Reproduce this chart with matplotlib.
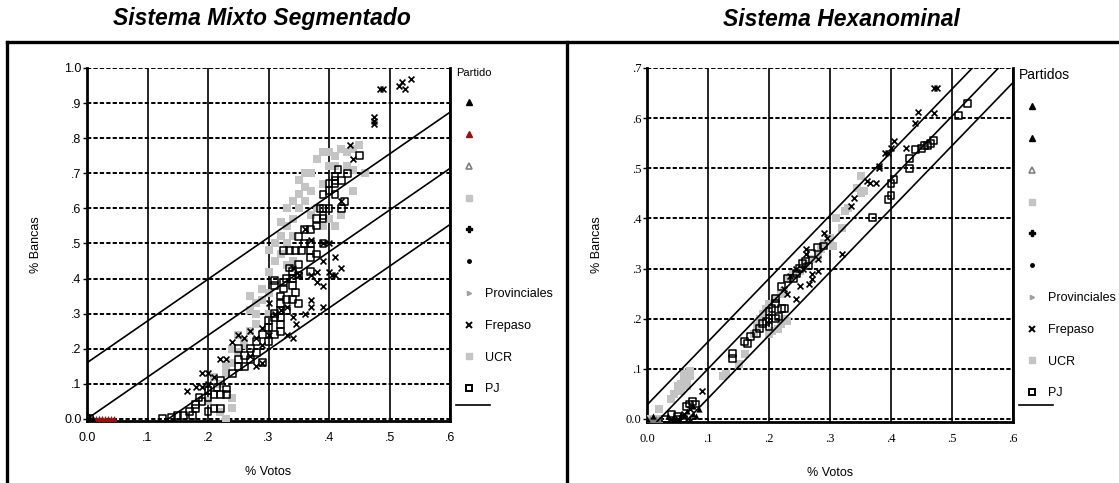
import numpy as np
import matplotlib
matplotlib.use('Agg')
import matplotlib.pyplot as plt
from matplotlib.lines import Line2D

plt.rcParams['font.family'] = ['Liberation Sans', 'DejaVu Sans']

# ---- Sistema Mixto Segmentado (left) ----
pj_l = [(0.0, 0.0), (0.005, 0.0), (0.125, 0.0), (0.14, 0.005), (0.15, 0.01), (0.16, 0.01), (0.17, 0.02),
        (0.175, 0.01), (0.18, 0.03), (0.18, 0.04), (0.185, 0.06), (0.19, 0.05), (0.2, 0.06), (0.2, 0.02),
        (0.21, 0.03), (0.22, 0.03), (0.2, 0.08), (0.21, 0.07), (0.22, 0.07), (0.215, 0.09), (0.23, 0.07),
        (0.23, 0.085), (0.22, 0.11), (0.24, 0.13), (0.25, 0.15), (0.25, 0.17), (0.25, 0.2), (0.26, 0.18),
        (0.26, 0.15), (0.27, 0.2), (0.27, 0.17), (0.28, 0.22), (0.28, 0.19), (0.29, 0.16), (0.29, 0.24),
        (0.3, 0.22), (0.3, 0.26), (0.3, 0.28), (0.31, 0.29), (0.31, 0.3), (0.32, 0.27), (0.32, 0.31),
        (0.32, 0.33), (0.32, 0.35), (0.325, 0.37), (0.33, 0.34), (0.33, 0.31), (0.31, 0.38), (0.33, 0.4),
        (0.325, 0.48), (0.335, 0.48), (0.345, 0.48), (0.355, 0.48), (0.335, 0.43), (0.34, 0.42), (0.34, 0.4),
        (0.35, 0.44), (0.35, 0.41), (0.35, 0.33), (0.345, 0.36), (0.35, 0.52), (0.36, 0.54), (0.37, 0.54),
        (0.36, 0.5), (0.37, 0.5), (0.37, 0.48), (0.37, 0.46), (0.38, 0.47), (0.38, 0.57), (0.38, 0.55),
        (0.39, 0.58), (0.39, 0.6), (0.385, 0.6), (0.39, 0.64), (0.39, 0.57), (0.4, 0.6), (0.4, 0.67),
        (0.41, 0.68), (0.41, 0.67), (0.41, 0.64), (0.41, 0.69), (0.415, 0.71), (0.42, 0.68), (0.42, 0.6),
        (0.425, 0.62), (0.43, 0.7), (0.45, 0.75), (0.4, 0.65), (0.39, 0.5), (0.37, 0.42), (0.34, 0.38),
        (0.32, 0.25), (0.31, 0.24), (0.34, 0.34), (0.32, 0.29), (0.325, 0.39), (0.31, 0.395)]
frepaso_l = [(0.165, 0.08), (0.18, 0.09), (0.19, 0.09), (0.19, 0.13), (0.2, 0.13), (0.21, 0.12), (0.22, 0.17),
             (0.23, 0.17), (0.2, 0.1), (0.24, 0.22), (0.25, 0.24), (0.26, 0.23), (0.27, 0.25), (0.28, 0.23),
             (0.28, 0.15), (0.29, 0.16), (0.29, 0.21), (0.3, 0.24), (0.3, 0.33), (0.31, 0.3), (0.32, 0.31),
             (0.33, 0.24), (0.34, 0.23), (0.345, 0.27), (0.34, 0.29), (0.36, 0.3), (0.37, 0.32), (0.37, 0.34),
             (0.37, 0.41), (0.38, 0.39), (0.38, 0.42), (0.39, 0.45), (0.39, 0.38), (0.39, 0.32), (0.4, 0.42),
             (0.405, 0.41), (0.41, 0.46), (0.41, 0.41), (0.42, 0.43), (0.4, 0.5), (0.37, 0.51), (0.36, 0.54),
             (0.39, 0.5), (0.42, 0.62), (0.44, 0.74), (0.435, 0.78), (0.475, 0.85), (0.475, 0.84), (0.475, 0.86),
             (0.485, 0.94), (0.49, 0.94), (0.515, 0.95), (0.52, 0.96), (0.525, 0.94), (0.535, 0.97),
             (0.34, 0.43), (0.35, 0.41), (0.33, 0.32), (0.29, 0.26), (0.27, 0.18)]
ucr_l = [(0.23, 0.0), (0.24, 0.03), (0.24, 0.06), (0.22, 0.1), (0.23, 0.13), (0.24, 0.16), (0.24, 0.2),
         (0.25, 0.19), (0.26, 0.21), (0.27, 0.25), (0.27, 0.35), (0.28, 0.33), (0.28, 0.3), (0.27, 0.31),
         (0.29, 0.34), (0.3, 0.36), (0.3, 0.3), (0.3, 0.42), (0.31, 0.45), (0.3, 0.48), (0.31, 0.5),
         (0.32, 0.47), (0.32, 0.52), (0.33, 0.55), (0.33, 0.5), (0.34, 0.57), (0.33, 0.6), (0.34, 0.62),
         (0.35, 0.6), (0.35, 0.64), (0.36, 0.62), (0.36, 0.66), (0.37, 0.65), (0.36, 0.7), (0.37, 0.7),
         (0.38, 0.74), (0.39, 0.76), (0.4, 0.76), (0.41, 0.75), (0.42, 0.77), (0.43, 0.76), (0.44, 0.77),
         (0.45, 0.78), (0.4, 0.72), (0.41, 0.72), (0.38, 0.6), (0.39, 0.55), (0.4, 0.57), (0.41, 0.55),
         (0.42, 0.58), (0.44, 0.65), (0.44, 0.71), (0.33, 0.44), (0.34, 0.45), (0.29, 0.37), (0.26, 0.22),
         (0.23, 0.15), (0.21, 0.12), (0.2, 0.05), (0.25, 0.24), (0.28, 0.27), (0.22, 0.02), (0.32, 0.56),
         (0.35, 0.68), (0.37, 0.58), (0.43, 0.72), (0.46, 0.7), (0.39, 0.67), (0.34, 0.52)]
otro_negro_l = [(0.0, 0.0), (0.005, 0.002), (0.01, 0.0)]
otro_rojo_l = [(0.01, 0.0), (0.015, 0.0), (0.02, 0.0), (0.025, 0.0), (0.03, 0.0), (0.035, 0.0), (0.04, 0.0), (0.045, 0.0)]
otro_gris_l = [(0.0, 0.0), (0.01, 0.0), (0.02, 0.0), (0.025, 0.0)]

# ---- Sistema Hexanominal (right) ----
pj_r = [(0.525, 0.63), (0.51, 0.605), (0.47, 0.555), (0.465, 0.55), (0.46, 0.545), (0.455, 0.545),
        (0.45, 0.54), (0.44, 0.538), (0.43, 0.52), (0.43, 0.5), (0.405, 0.477), (0.4, 0.47), (0.4, 0.445),
        (0.395, 0.437), (0.37, 0.402), (0.29, 0.345), (0.28, 0.342), (0.27, 0.33), (0.26, 0.315),
        (0.255, 0.31), (0.25, 0.3), (0.245, 0.29), (0.24, 0.28), (0.23, 0.28), (0.22, 0.265), (0.21, 0.24),
        (0.21, 0.23), (0.205, 0.22), (0.2, 0.215), (0.21, 0.2), (0.2, 0.2), (0.19, 0.19), (0.2, 0.185),
        (0.22, 0.22), (0.225, 0.22), (0.185, 0.18), (0.18, 0.17), (0.17, 0.165), (0.16, 0.155),
        (0.165, 0.15), (0.14, 0.13), (0.14, 0.12), (0.215, 0.205), (0.195, 0.195), (0.265, 0.305),
        (0.04, 0.01), (0.05, 0.005), (0.06, 0.0), (0.07, 0.03), (0.075, 0.035), (0.08, 0.03),
        (0.065, 0.025), (0.05, 0.0), (0.03, 0.0)]
frepaso_r = [(0.47, 0.66), (0.475, 0.66), (0.445, 0.613), (0.47, 0.61), (0.44, 0.59), (0.405, 0.555),
             (0.4, 0.54), (0.395, 0.53), (0.425, 0.54), (0.39, 0.53), (0.38, 0.505), (0.38, 0.5),
             (0.365, 0.47), (0.375, 0.47), (0.36, 0.475), (0.34, 0.44), (0.335, 0.425), (0.29, 0.37),
             (0.295, 0.36), (0.32, 0.33), (0.28, 0.32), (0.28, 0.295), (0.27, 0.29), (0.27, 0.28),
             (0.265, 0.27), (0.26, 0.34), (0.25, 0.265), (0.245, 0.24), (0.23, 0.25), (0.235, 0.285),
             (0.225, 0.26), (0.09, 0.055), (0.07, 0.02), (0.05, 0.0), (0.06, 0.01), (0.04, 0.0),
             (0.255, 0.3), (0.26, 0.33), (0.245, 0.3)]
ucr_r = [(0.35, 0.485), (0.345, 0.46), (0.355, 0.455), (0.35, 0.45), (0.33, 0.42), (0.325, 0.415),
         (0.31, 0.4), (0.32, 0.38), (0.305, 0.345), (0.3, 0.36), (0.29, 0.35), (0.285, 0.34), (0.28, 0.325),
         (0.27, 0.32), (0.26, 0.31), (0.25, 0.295), (0.24, 0.29), (0.23, 0.28), (0.225, 0.255), (0.22, 0.25),
         (0.21, 0.24), (0.2, 0.23), (0.195, 0.22), (0.19, 0.21), (0.185, 0.2), (0.18, 0.185), (0.175, 0.17),
         (0.215, 0.18), (0.22, 0.19), (0.225, 0.2), (0.23, 0.195), (0.205, 0.175), (0.2, 0.17), (0.16, 0.13),
         (0.15, 0.11), (0.13, 0.09), (0.125, 0.085), (0.06, 0.09), (0.07, 0.095), (0.065, 0.08),
         (0.055, 0.07), (0.05, 0.06), (0.045, 0.05), (0.06, 0.075), (0.07, 0.085), (0.04, 0.04),
         (0.05, 0.065), (0.02, 0.02), (0.02, 0.0), (0.005, 0.0), (0.01, 0.0), (0.055, 0.055), (0.065, 0.065)]
otro_negro_r = [(0.0, 0.0), (0.01, 0.005), (0.035, 0.005), (0.045, 0.0), (0.055, 0.01), (0.06, 0.005),
                (0.07, 0.0), (0.075, 0.01), (0.08, 0.005), (0.085, 0.02), (0.065, 0.015), (0.075, 0.025)]
otro_rojo_r = []
otro_gris_r = [(0.0, 0.0), (0.005, 0.0), (0.01, 0.0), (0.015, 0.0), (0.02, 0.0)]

# fitted bands: slope and intercepts (upper, middle, lower)
band_l = (1.19, [0.16, 0.0, -0.16])
band_r = (1.26, [0.028, -0.026, -0.085])

legend_labels = ['', '', '', '', '', '', 'Provinciales', 'Frepaso', 'UCR', 'PJ']

W, H = 1119, 483


def xy(pts):
    a = np.array(pts, dtype=float).reshape(-1, 2)
    return a[:, 0], a[:, 1]


def panel(ax, pj, fre, ucr, negro, rojo, gris, band, ymax, yticks, ylabels, tickfont, red2, leg_title, leg_size, leg_x):
    ax.set_xlim(0, 0.6)
    ax.set_ylim(-0.006, ymax)
    x, y = xy(ucr)
    ax.scatter(x, y, marker='s', s=38, color='#c4c4c4', lw=0, zorder=3)
    x, y = xy(gris)
    ax.scatter(x, y, marker='^', s=25, color='#7a7a7a', lw=0, zorder=3)
    x, y = xy(rojo)
    ax.scatter(x, y, marker='^', s=25, color='#9a1010', lw=0, zorder=4)
    x, y = xy(negro)
    ax.scatter(x, y, marker='^', s=20, color='black', lw=0, zorder=4)
    x, y = xy(pj)
    ax.scatter(x, y, marker='s', s=24, facecolor='none', edgecolor='black', lw=1.1, zorder=5)
    x, y = xy(fre)
    ax.scatter(x, y, marker='x', s=18, color='black', lw=1.2, zorder=5)
    xs = np.linspace(0, 0.6, 50)
    for c in band[1]:
        ax.plot(xs, band[0] * xs + c, color='black', lw=1.2, zorder=6)

    ax.set_xticks([0, 0.1, 0.2, 0.3, 0.4, 0.5, 0.6])
    ax.set_xticklabels(['0.0', '.1', '.2', '.3', '.4', '.5', '.6'], fontfamily=tickfont, fontsize=9)
    ax.set_yticks(yticks)
    ax.set_yticklabels(ylabels, fontfamily=tickfont, fontsize=9)
    ax.tick_params(axis='x', length=0, pad=8)
    ax.tick_params(axis='y', length=3, width=1, pad=1)
    ax.grid(axis='x', color='black', lw=1.2, ls='-')
    ax.grid(axis='y', color='black', lw=1.4, ls=(0, (2.2, 1.1)))
    ax.set_axisbelow(True)
    ax.spines['top'].set_visible(False)
    for s in ['left', 'right', 'bottom']:
        ax.spines[s].set_linewidth(2)
    ax.set_xlabel('% Votos', fontsize=9, labelpad=16)
    ax.set_ylabel('% Bancas', fontsize=9, labelpad=16)

    handles = [
        Line2D([], [], ls='none', marker='^', ms=5, color='black'),
        Line2D([], [], ls='none', marker='^', ms=5, color='#9a1010' if red2 else 'black'),
        Line2D([], [], ls='none', marker='^', ms=4, mfc='white', mec='#808080', mew=1.2),
        Line2D([], [], ls='none', marker='s', ms=4, color='#c4c4c4'),
        Line2D([], [], ls='none', marker='P', ms=5, color='black'),
        Line2D([], [], ls='none', marker='o', ms=2.5, color='black'),
        Line2D([], [], ls='none', marker='>', ms=3, color='#a0a0a0'),
        Line2D([], [], ls='none', marker='x', ms=4.5, mew=1.4, color='black'),
        Line2D([], [], ls='none', marker='s', ms=4, color='#c4c4c4'),
        Line2D([], [], ls='none', marker='s', ms=4.5, mfc='white', mec='black', mew=1.4),
    ]
    ax.legend(handles, legend_labels, loc='upper left',
              bbox_to_anchor=(leg_x, 1 - 68 / H), bbox_transform=fig.transFigure,
              frameon=False, fontsize=9, title=leg_title, title_fontsize=leg_size,
              alignment='left', handlelength=2.0, handletextpad=0.3,
              labelspacing=1.58, borderpad=0, borderaxespad=0)
    # legend entry for the fitted line
    fig.add_artist(Line2D([leg_x, leg_x + 34 / W], [1 - 405 / H, 1 - 405 / H], color='black', lw=1.2,
                          transform=fig.transFigure))


fig = plt.figure(figsize=(W / 100, H / 100), dpi=100)

axl = fig.add_axes([87 / W, 1 - 421 / H, 363 / W, 353 / H])
panel(axl, pj_l, frepaso_l, ucr_l, otro_negro_l, otro_rojo_l, otro_gris_l, band_l, 1.0,
      [0, .1, .2, .3, .4, .5, .6, .7, .8, .9, 1.0],
      ['0.0', '.1', '.2', '.3', '.4', '.5', '.6', '.7', '.8', '.9', '1.0'],
      'Liberation Sans', True, 'Partido', 8, 456 / W)

axr = fig.add_axes([647 / W, 1 - 422 / H, 366 / W, 354 / H])
panel(axr, pj_r, frepaso_r, ucr_r, otro_negro_r, otro_rojo_r, otro_gris_r, band_r, 0.7,
      [0, .1, .2, .3, .4, .5, .6, .7],
      ['0.0', '.1', '.2', '.3', '.4', '.5', '.6', '.7'],
      'Liberation Serif', False, 'Partidos', 10, 1019 / W)

fig.text(262 / W, 1 - 19 / H, 'Sistema Mixto Segmentado', ha='center', va='center',
         fontsize=16.5, fontweight='bold', fontstyle='italic')
fig.text(841 / W, 1 - 19 / H, 'Sistema Hexanominal', ha='center', va='center',
         fontsize=16.5, fontweight='bold', fontstyle='italic')

# panel frames
fig.add_artist(Line2D([7 / W, 1.0], [1 - 42 / H, 1 - 42 / H], color='black', lw=2.4, transform=fig.transFigure))
fig.add_artist(Line2D([7 / W, 7 / W], [0, 1 - 42 / H], color='black', lw=2.4, transform=fig.transFigure))
fig.add_artist(Line2D([567 / W, 567 / W], [0, 1 - 42 / H], color='black', lw=2.4, transform=fig.transFigure))

fig.savefig('out.png', dpi=100)
